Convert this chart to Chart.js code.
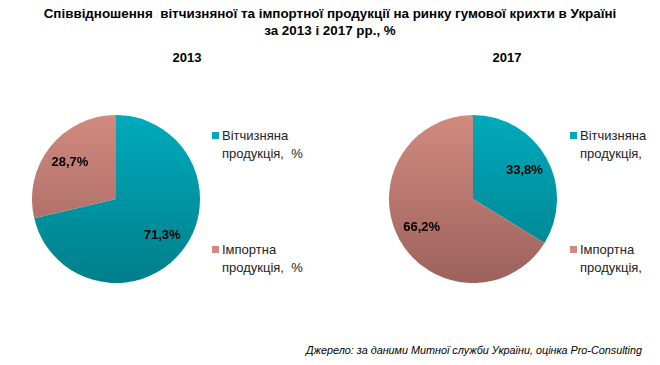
<!DOCTYPE html>
<html>
<head>
<meta charset="utf-8">
<script src="https://cdn.jsdelivr.net/npm/chart.js@4"></script>
<style>
  body { margin: 0; background: #fff; font-family: "Liberation Sans", Arial, sans-serif; }
  #wrap { position: relative; width: 660px; height: 365px; overflow: hidden; }
  .abs { position: absolute; }
  #title { left: 0; width: 660px; top: 5px; text-align: center; font-weight: bold; font-size: 13.4px; line-height: 17px; color: #000; }
  .year { font-weight: bold; font-size: 13px; color: #000; width: 60px; text-align: center; top: 50px; }
  .leg { font-size: 13px; line-height: 18px; color: #222; white-space: pre; }
  .leg i { position: absolute; left: -10px; top: 5px; width: 7px; height: 7px; }
  #src { right: 18px; top: 344px; font-size: 10.8px; font-style: italic; color: #000; }
</style>
</head>
<body>
<div id="wrap">
  <div id="title" class="abs">Співвідношення&nbsp; вітчизняної та імпортної продукції на ринку гумової крихти в Україні<br>за 2013 і 2017 рр., %</div>
  <div class="abs year" style="left:157px">2013</div>
  <div class="abs year" style="left:477px">2017</div>
  <canvas id="pie2013" class="abs" style="left:32px;top:115px" width="168" height="168"></canvas>
  <canvas id="pie2017" class="abs" style="left:389px;top:115px" width="168" height="168"></canvas>
  <div id="legends"></div>
  <div id="src" class="abs">Джерело: за даними Митної служби України, оцінка Pro-Consulting</div>
</div>
<script>
const categories = ["Вітчизняна продукція, %", "Імпортна продукція, %"];
const values2013 = [71.3, 28.7];
const values2017 = [33.8, 66.2];
const legend2013 = [["Вітчизняна", "продукція,  %"], ["Імпортна", "продукція,  %"]];
const legend2017 = [["Вітчизняна", "продукція,"], ["Імпортна", "продукція,"]];

const gradStops = [["#00aabb", "#007f8b"], ["#d18a80", "#9c625c"]];

function sliceColor(ctx) {
  const area = ctx.chart.chartArea;
  if (!area) return gradStops[ctx.dataIndex][0];
  const g = ctx.chart.ctx.createLinearGradient(0, area.top, 0, area.bottom);
  g.addColorStop(0, gradStops[ctx.dataIndex][0]);
  g.addColorStop(1, gradStops[ctx.dataIndex][1]);
  return g;
}

const sliceLabels = {
  id: "sliceLabels",
  afterDatasetsDraw(chart) {
    const c = chart.ctx;
    const meta = chart.getDatasetMeta(0);
    c.save();
    c.font = "bold 13px 'Liberation Sans', Arial, sans-serif";
    c.fillStyle = "#000";
    c.textAlign = "center";
    c.textBaseline = "middle";
    meta.data.forEach((arc, i) => {
      const mid = (arc.startAngle + arc.endAngle) / 2;
      const r = arc.outerRadius * 0.7;
      const x = arc.x + Math.cos(mid) * r;
      const y = arc.y + Math.sin(mid) * r;
      const v = chart.data.datasets[0].data[i];
      c.fillText(v.toFixed(1).replace(".", ",") + "%", x, y);
    });
    c.restore();
  }
};

function makePie(id, values) {
  new Chart(document.getElementById(id), {
    type: "pie",
    data: {
      labels: categories,
      datasets: [{
        data: values,
        backgroundColor: sliceColor,
        borderWidth: 0
      }]
    },
    options: {
      responsive: false,
      animation: false,
      layout: { padding: 0 },
      plugins: {
        legend: { display: false },
        tooltip: { enabled: false }
      }
    },
    plugins: [sliceLabels]
  });
}

makePie("pie2013", values2013);
makePie("pie2017", values2017);

// legends beside each pie
function addLegend(left, lines) {
  const tops = [127, 241];
  lines.forEach((ln, i) => {
    const d = document.createElement("div");
    d.className = "abs leg";
    d.style.left = left + "px";
    d.style.top = tops[i] + "px";
    const sq = document.createElement("i");
    sq.style.background = gradStops[i][0];
    d.appendChild(sq);
    d.appendChild(document.createTextNode(ln.join("\n")));
    document.getElementById("legends").appendChild(d);
  });
}
addLegend(222, legend2013);
addLegend(580, legend2017);
</script>
</body>
</html>
